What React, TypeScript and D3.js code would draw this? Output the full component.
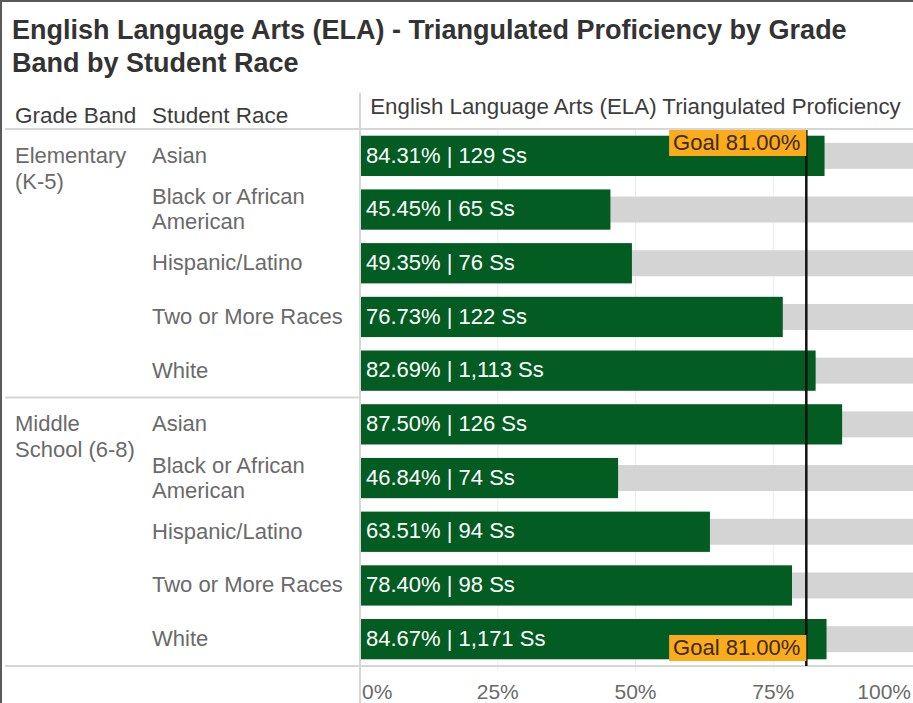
import { useEffect, useRef } from 'react';
import * as d3 from 'd3';

const gradeBands = ['Elementary (K-5)', 'Middle School (6-8)'];
const races = ['Asian', 'Black or African American', 'Hispanic/Latino', 'Two or More Races', 'White'];
const elementaryPct = [84.31, 45.45, 49.35, 76.73, 82.69];
const elementaryCount = [129, 65, 76, 122, 1113];
const middlePct = [87.5, 46.84, 63.51, 78.4, 84.67];
const middleCount = [126, 74, 94, 98, 1171];
const goalPct = 81;
const axisTicks = [0, 25, 50, 75, 100];

const FONT = '"Liberation Sans", Arial, sans-serif';

export default function App() {
  const svgRef = useRef<SVGSVGElement>(null);

  useEffect(() => {
    if (!svgRef.current) return;
    const width = 913;
    const height = 703;
    const svg = d3.select(svgRef.current);
    svg.selectAll('*').remove();
    svg.attr('width', width).attr('height', height);

    const rows = [
      ...races.map((r, i) => ({ band: gradeBands[0], race: r, pct: elementaryPct[i], n: elementaryCount[i] })),
      ...races.map((r, i) => ({ band: gradeBands[1], race: r, pct: middlePct[i], n: middleCount[i] })),
    ];
    const key = (d: (typeof rows)[0]) => `${d.band}|${d.race}`;

    const plotTop = 129;
    const plotBottom = 666;
    const plotLeft = 360;
    const plotRight = 911;

    const x = d3.scaleLinear().domain([0, 100]).range([plotLeft, plotRight]);
    const y = d3
      .scaleBand<string>()
      .domain(rows.map(key))
      .range([plotTop, plotBottom])
      .paddingInner(0.25)
      .paddingOuter(0.125);

    // frame
    svg.append('line').attr('x1', 1).attr('x2', 1).attr('y1', 0).attr('y2', height)
      .attr('stroke', '#5a5a5a').attr('stroke-width', 2);
    svg.append('line').attr('x1', 0).attr('x2', width).attr('y1', 1).attr('y2', 1)
      .attr('stroke', '#5a5a5a').attr('stroke-width', 2);

    // title
    const title = svg.append('text')
      .attr('font-family', FONT).attr('font-weight', 'bold').attr('font-size', 27)
      .attr('fill', '#333');
    title.append('tspan').attr('x', 12).attr('y', 39)
      .text('English Language Arts (ELA) - Triangulated Proficiency by Grade');
    title.append('tspan').attr('x', 12).attr('y', 72).text('Band by Student Race');

    // headers
    const header = svg.append('g').attr('font-family', FONT).attr('fill', '#3c3c3c');
    header.append('text').attr('x', 15).attr('y', 123).attr('font-size', 22.5).text('Grade Band');
    header.append('text').attr('x', 152).attr('y', 123).attr('font-size', 22.5).text('Student Race');
    header.append('text').attr('x', (plotLeft + plotRight) / 2).attr('y', 114).attr('font-size', 22.3)
      .attr('text-anchor', 'middle').text('English Language Arts (ELA) Triangulated Proficiency');

    // gridlines
    svg.append('g')
      .selectAll('line')
      .data(axisTicks.slice(1, -1))
      .join('line')
      .attr('x1', (d) => x(d)).attr('x2', (d) => x(d))
      .attr('y1', plotTop).attr('y2', plotBottom + 4)
      .attr('stroke', '#ececec').attr('stroke-width', 1);

    // divider lines
    svg.append('line').attr('x1', 5).attr('x2', width).attr('y1', plotTop).attr('y2', plotTop)
      .attr('stroke', '#d6d6d6').attr('stroke-width', 2);
    svg.append('line').attr('x1', 5).attr('x2', width).attr('y1', plotBottom).attr('y2', plotBottom)
      .attr('stroke', '#d6d6d6').attr('stroke-width', 2);
    const sectionY = (y(key(rows[4]))! + y.bandwidth() + y(key(rows[5]))!) / 2;
    svg.append('line').attr('x1', 5).attr('x2', plotLeft).attr('y1', sectionY).attr('y2', sectionY)
      .attr('stroke', '#d6d6d6').attr('stroke-width', 2);
    svg.append('line').attr('x1', plotLeft).attr('x2', plotLeft).attr('y1', 93).attr('y2', height)
      .attr('stroke', '#d6d6d6').attr('stroke-width', 2);

    const bh = y.bandwidth();
    const grayH = 26;

    // background bars (100%)
    svg.append('g')
      .selectAll('rect')
      .data(rows)
      .join('rect')
      .attr('x', x(0))
      .attr('width', x(100) - x(0) + 2)
      .attr('y', (d) => y(key(d))! + (bh - grayH) / 2)
      .attr('height', grayH)
      .attr('fill', '#d4d4d4');

    // value bars
    svg.append('g')
      .selectAll('rect')
      .data(rows)
      .join('rect')
      .attr('x', x(0) + 1)
      .attr('width', (d) => x(d.pct) - x(0) - 1)
      .attr('y', (d) => y(key(d))!)
      .attr('height', bh)
      .attr('fill', '#035c22');

    // value labels
    svg.append('g')
      .attr('font-family', FONT).attr('font-size', 22).attr('fill', '#fff')
      .selectAll('text')
      .data(rows)
      .join('text')
      .attr('x', x(0) + 6)
      .attr('y', (d) => y(key(d))! + bh / 2 - 1)
      .attr('dy', '0.35em')
      .text((d) => `${d.pct.toFixed(2)}% | ${d3.format(',')(d.n)} Ss`);

    // word wrap helper
    const wrap = (sel: d3.Selection<SVGTextElement, any, any, any>, maxW: number, lh: number) => {
      sel.each(function () {
        const t = d3.select(this);
        const words = t.text().split(/\s+/);
        const x0 = t.attr('x');
        t.text(null);
        const lines: string[] = [];
        let line: string[] = [];
        const ts = t.append('tspan').attr('x', x0);
        for (const w of words) {
          line.push(w);
          ts.text(line.join(' '));
          if ((ts.node() as SVGTSpanElement).getComputedTextLength() > maxW && line.length > 1) {
            line.pop();
            lines.push(line.join(' '));
            line = [w];
          }
          ts.text(line.join(' '));
        }
        lines.push(line.join(' '));
        t.text(null);
        lines.forEach((l, i) => {
          t.append('tspan').attr('x', x0).attr('dy', i === 0 ? 0 : lh).text(l);
        });
        t.attr('data-lines', lines.length);
      });
    };

    // race labels
    const raceLabels = svg.append('g')
      .attr('font-family', FONT).attr('font-size', 22).attr('fill', '#6a6a6a')
      .selectAll<SVGTextElement, (typeof rows)[0]>('text')
      .data(rows)
      .join('text')
      .attr('x', 152)
      .text((d) => d.race);
    wrap(raceLabels, 200, 25);
    raceLabels.attr('y', function (d) {
      const n = +(this.getAttribute('data-lines') || 1);
      return y(key(d))! + bh / 2 + 7 - ((n - 1) * 25) / 2;
    });

    // grade band labels
    const bandLabels = svg.append('g')
      .attr('font-family', FONT).attr('font-size', 22).attr('fill', '#6a6a6a')
      .selectAll<SVGTextElement, string>('text')
      .data(gradeBands)
      .join('text')
      .attr('x', 15)
      .attr('y', (b) => y(`${b}|${races[0]}`)! + bh / 2 + 7)
      .text((b) => b);
    wrap(bandLabels, 132, 26);

    // goal line
    svg.append('line')
      .attr('x1', x(goalPct)).attr('x2', x(goalPct))
      .attr('y1', plotTop + 1).attr('y2', plotBottom)
      .attr('stroke', '#111').attr('stroke-width', 2.5);

    const goalText = `Goal ${goalPct.toFixed(2)}%`;
    const goalBoxes = [plotTop + 1, plotBottom - 31];
    goalBoxes.forEach((top) => {
      const g = svg.append('g');
      const t = g.append('text')
        .attr('font-family', FONT).attr('font-size', 22).attr('fill', '#3a2a10')
        .attr('x', x(goalPct) - 6).attr('y', top + 12).attr('dy', '0.35em')
        .attr('text-anchor', 'end')
        .text(goalText);
      const w = (t.node() as SVGTextElement).getComputedTextLength();
      g.insert('rect', 'text')
        .attr('x', x(goalPct) - w - 10).attr('y', top)
        .attr('width', w + 10).attr('height', 26)
        .attr('fill', '#fbab1c');
    });

    // x axis labels
    svg.append('g')
      .attr('font-family', FONT).attr('font-size', 21).attr('fill', '#6a6a6a')
      .selectAll('text')
      .data(axisTicks)
      .join('text')
      .attr('x', (d, i) => (i === 0 ? x(d) + 2 : x(d)))
      .attr('y', 699)
      .attr('text-anchor', (d, i) => (i === 0 ? 'start' : i === axisTicks.length - 1 ? 'end' : 'middle'))
      .text((d) => `${d}%`);
  }, []);

  return (
    <div style={{ position: 'absolute', left: 0, top: 0, width: 913, height: 703, background: '#fff' }}>
      <svg ref={svgRef} style={{ display: 'block' }} />
    </div>
  );
}
